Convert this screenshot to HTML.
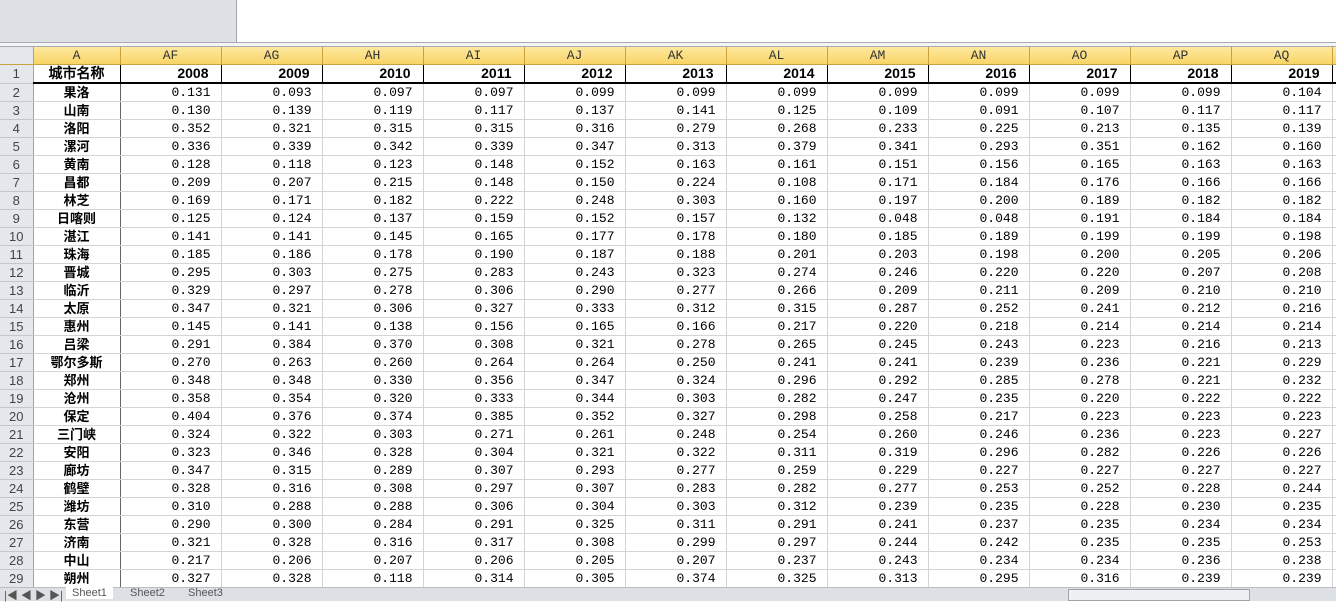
<!DOCTYPE html><html><head><meta charset="utf-8"><style>
body{margin:0;width:1336px;height:600px;overflow:hidden;background:#fff;position:relative;font-family:"Liberation Sans","Noto Sans CJK SC",sans-serif}
#top{position:absolute;left:0;top:0;width:236px;height:42px;background:#dee1e6;border-right:1px solid #a0a4aa}
#sep{position:absolute;left:0;top:42px;width:1336px;height:3px;border-top:1px solid #a7abb0;border-bottom:1px solid #a7abb0;background:#f4f5f7}
table{position:absolute;left:0;top:47px;border-collapse:collapse;table-layout:fixed;width:1372px}
td{height:17px;padding:0 10px 0 0;border-right:1px solid #d4d4d4;border-bottom:1px solid #d4d4d4;font-family:"Liberation Mono","Noto Sans CJK SC",monospace;font-size:13px;text-align:right;white-space:nowrap;overflow:hidden;line-height:17px;color:#000}
tr.h td{background:linear-gradient(#fde9a0,#f9d466);border-right:1px solid #c9a23c;border-bottom:1px solid #c9a23c;text-align:center;padding:0;color:#333;font-size:13px}
td.rn{background:#e4e7ec;text-align:center;padding:0;color:#444;border-right:1px solid #9ea4ab;border-bottom:1px solid #c4c8cd;font-family:"Liberation Sans",sans-serif}
td.a{text-align:center;padding:0;font-family:"Liberation Sans","Noto Sans CJK SC",sans-serif;font-weight:bold;border-right:1px solid #666}
tr.r1 td{border-bottom:2px solid #000;font-family:"Liberation Sans",sans-serif;font-weight:bold;font-size:14px;padding-right:12px;border-right:1px solid #000}
tr.r1 td.rn{border-bottom:1px solid #c4c8cd;border-right:1px solid #9ea4ab;font-weight:normal;font-size:13px;padding:0}
tr.r1 td.a{padding:0}
tr.h td.rn{background:#e4e7ec;border-right:1px solid #9ea4ab}
#tabs{position:absolute;left:0;top:587px;width:1336px;height:13px;background:#dde1e6;border-top:1px solid #b9bec4;font-size:11px;color:#555}
</style></head><body>
<div id="top"></div><div id="sep"></div>
<table id="t">
<colgroup><col style="width:33px"><col style="width:87px"><col span="12" style="width:101px"><col style="width:40px"></colgroup>
</table>
<div id="tabs"><span style="position:absolute;left:4px;top:-1px">|◀ ◀ ▶ ▶|</span><span style="position:absolute;left:66px;top:-1px;background:#fff;padding:0 6px">Sheet1</span><span style="position:absolute;left:130px;top:-1px">Sheet2</span><span style="position:absolute;left:188px;top:-1px">Sheet3</span><span style="position:absolute;left:1068px;top:1px;width:180px;height:10px;border:1px solid #a0a4aa;background:#eef0f3"></span></div>
<script>
var cols=["AF","AG","AH","AI","AJ","AK","AL","AM","AN","AO","AP","AQ"];
var d=`果洛 0.131 0.093 0.097 0.097 0.099 0.099 0.099 0.099 0.099 0.099 0.099 0.104
山南 0.130 0.139 0.119 0.117 0.137 0.141 0.125 0.109 0.091 0.107 0.117 0.117
洛阳 0.352 0.321 0.315 0.315 0.316 0.279 0.268 0.233 0.225 0.213 0.135 0.139
漯河 0.336 0.339 0.342 0.339 0.347 0.313 0.379 0.341 0.293 0.351 0.162 0.160
黄南 0.128 0.118 0.123 0.148 0.152 0.163 0.161 0.151 0.156 0.165 0.163 0.163
昌都 0.209 0.207 0.215 0.148 0.150 0.224 0.108 0.171 0.184 0.176 0.166 0.166
林芝 0.169 0.171 0.182 0.222 0.248 0.303 0.160 0.197 0.200 0.189 0.182 0.182
日喀则 0.125 0.124 0.137 0.159 0.152 0.157 0.132 0.048 0.048 0.191 0.184 0.184
湛江 0.141 0.141 0.145 0.165 0.177 0.178 0.180 0.185 0.189 0.199 0.199 0.198
珠海 0.185 0.186 0.178 0.190 0.187 0.188 0.201 0.203 0.198 0.200 0.205 0.206
晋城 0.295 0.303 0.275 0.283 0.243 0.323 0.274 0.246 0.220 0.220 0.207 0.208
临沂 0.329 0.297 0.278 0.306 0.290 0.277 0.266 0.209 0.211 0.209 0.210 0.210
太原 0.347 0.321 0.306 0.327 0.333 0.312 0.315 0.287 0.252 0.241 0.212 0.216
惠州 0.145 0.141 0.138 0.156 0.165 0.166 0.217 0.220 0.218 0.214 0.214 0.214
吕梁 0.291 0.384 0.370 0.308 0.321 0.278 0.265 0.245 0.243 0.223 0.216 0.213
鄂尔多斯 0.270 0.263 0.260 0.264 0.264 0.250 0.241 0.241 0.239 0.236 0.221 0.229
郑州 0.348 0.348 0.330 0.356 0.347 0.324 0.296 0.292 0.285 0.278 0.221 0.232
沧州 0.358 0.354 0.320 0.333 0.344 0.303 0.282 0.247 0.235 0.220 0.222 0.222
保定 0.404 0.376 0.374 0.385 0.352 0.327 0.298 0.258 0.217 0.223 0.223 0.223
三门峡 0.324 0.322 0.303 0.271 0.261 0.248 0.254 0.260 0.246 0.236 0.223 0.227
安阳 0.323 0.346 0.328 0.304 0.321 0.322 0.311 0.319 0.296 0.282 0.226 0.226
廊坊 0.347 0.315 0.289 0.307 0.293 0.277 0.259 0.229 0.227 0.227 0.227 0.227
鹤壁 0.328 0.316 0.308 0.297 0.307 0.283 0.282 0.277 0.253 0.252 0.228 0.244
潍坊 0.310 0.288 0.288 0.306 0.304 0.303 0.312 0.239 0.235 0.228 0.230 0.235
东营 0.290 0.300 0.284 0.291 0.325 0.311 0.291 0.241 0.237 0.235 0.234 0.234
济南 0.321 0.328 0.316 0.317 0.308 0.299 0.297 0.244 0.242 0.235 0.235 0.253
中山 0.217 0.206 0.207 0.206 0.205 0.207 0.237 0.243 0.234 0.234 0.236 0.238
朔州 0.327 0.328 0.118 0.314 0.305 0.374 0.325 0.313 0.295 0.316 0.239 0.239`.split("\n");
var h='<tr class="h"><td class="rn"></td><td>A</td>'+cols.map(c=>'<td>'+c+'</td>').join('')+'<td></td></tr>';
h+='<tr class="r1"><td class="rn">1</td><td class="a">城市名称</td>';
for(var y=2008;y<=2019;y++)h+='<td>'+y+'</td>';h+='<td></td></tr>';
d.forEach((l,i)=>{var p=l.split(" ");h+='<tr><td class="rn">'+(i+2)+'</td><td class="a">'+p[0]+'</td>'+p.slice(1).map(v=>'<td>'+v+'</td>').join('')+'<td></td></tr>';});
document.getElementById('t').insertAdjacentHTML('beforeend',h);
</script>
</body></html>
